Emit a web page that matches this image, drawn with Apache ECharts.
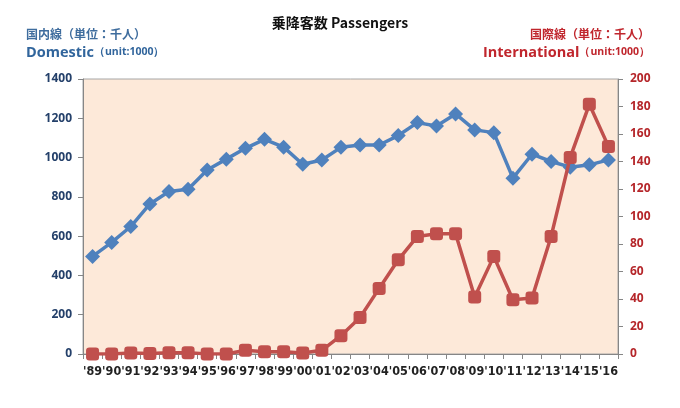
<!DOCTYPE html>
<html>
<head>
<meta charset="utf-8">
<script src="https://cdn.jsdelivr.net/npm/echarts@6/dist/echarts.min.js"></script>
<style>
  html, body { margin: 0; padding: 0; background: #fff; }
  #chart { width: 680px; height: 408px; }
</style>
</head>
<body>
<div id="chart"></div>
<script>
  // years '89 .. '16
  const years = ["'89","'90","'91","'92","'93","'94","'95","'96","'97","'98","'99","'00","'01","'02",
                 "'03","'04","'05","'06","'07","'08","'09","'10","'11","'12","'13","'14","'15","'16"]
  // domestic passengers (thousand)
  const domestic = [497, 568, 649, 764, 827, 839, 937, 992, 1047, 1093, 1053, 966, 988, 1052,
                    1064, 1064, 1112, 1178, 1161, 1222, 1141, 1127, 895, 1017, 980, 951, 963, 988]
  // international passengers (thousand)
  const international = [0, 0, 0.7, 0.3, 1, 1, 0, 0, 2.7, 1.7, 1.7, 0.7, 2.7, 13.3,
                         26.5, 47.7, 68.5, 85.5, 87.4, 87.4, 41.4, 71, 39.5, 40.7, 85.5, 143, 181.6, 151]
  const leftTicks = { min: 0, max: 1400, interval: 200 }
  const rightTicks = { min: 0, max: 200, interval: 20 }

  const blue = '#4F81BD'
  const red = '#C0504D'
  const jp = "'Noto Sans CJK JP', sans-serif"
  const lat = "'Open Sans', 'Noto Sans', sans-serif"

  const chart = echarts.init(document.getElementById('chart'))
  const option = {
    animation: false,
    backgroundColor: '#fff',
    title: [
      {
        text: '乗降客数 Passengers',
        left: 'center',
        top: 11,
        textStyle: { fontFamily: jp, fontSize: 14, fontWeight: 'bold', color: '#111' }
      },
      {
        text: '国内線（単位：千人）',
        left: 21,
        top: 23,
        textStyle: { fontFamily: jp, fontSize: 12, fontWeight: 'bold', color: '#3F6D9E' }
      },
      {
        text: '{a|Domestic}{b|（unit:1000）}',
        left: 21,
        top: 40,
        textStyle: {
          rich: {
            a: { fontFamily: lat, fontSize: 14.5, fontWeight: 'bold', color: '#31659C' },
            b: { fontFamily: lat, fontSize: 10.5, fontWeight: 'bold', color: '#31659C' }
          }
        }
      },
      {
        text: '国際線（単位：千人）',
        right: 25,
        top: 23,
        textStyle: { fontFamily: jp, fontSize: 12, fontWeight: 'bold', color: '#C0262D' }
      },
      {
        text: '{a|International}{b|（unit:1000）}',
        right: 25,
        top: 40,
        textStyle: {
          rich: {
            a: { fontFamily: lat, fontSize: 14.5, fontWeight: 'bold', color: '#C0262D' },
            b: { fontFamily: lat, fontSize: 10.5, fontWeight: 'bold', color: '#C0262D' }
          }
        }
      }
    ],
    grid: {
      left: 83, right: 62, top: 79, bottom: 54,
      show: true,
      backgroundColor: '#FDE9D9',
      borderColor: '#A6A6A6',
      borderWidth: 1
    },
    xAxis: {
      type: 'category',
      data: years,
      boundaryGap: true,
      axisLine: { lineStyle: { color: '#868686' } },
      axisTick: { show: true, length: 5, lineStyle: { color: '#868686' } },
      axisLabel: {
        interval: 0,
        hideOverlap: false,
        margin: 11,
        fontFamily: "'Liberation Sans Narrow', 'DejaVu Sans Condensed', sans-serif",
        fontSize: 12.5,
        fontWeight: 'bold',
        color: '#222'
      }
    },
    yAxis: [
      {
        type: 'value',
        min: leftTicks.min, max: leftTicks.max, interval: leftTicks.interval,
        position: 'left',
        axisLine: { show: true, lineStyle: { color: '#868686' } },
        axisTick: { show: true, length: 5, lineStyle: { color: '#868686' } },
        splitLine: { show: false },
        axisLabel: {
          margin: 11, fontFamily: lat, fontSize: 12, fontWeight: 'bold', color: '#24406A',
          formatter: v => String(v)
        }
      },
      {
        type: 'value',
        min: rightTicks.min, max: rightTicks.max, interval: rightTicks.interval,
        position: 'right',
        axisLine: { show: true, lineStyle: { color: '#868686' } },
        axisTick: { show: true, length: 5, lineStyle: { color: '#868686' } },
        splitLine: { show: false },
        axisLabel: {
          margin: 12, fontFamily: lat, fontSize: 12, fontWeight: 'bold', color: '#B5262A',
          formatter: v => String(v)
        }
      }
    ],
    series: [
      {
        name: 'Domestic',
        type: 'line',
        yAxisIndex: 0,
        data: domestic,
        symbol: 'diamond',
        symbolSize: 15,
        lineStyle: { color: blue, width: 3.5 },
        itemStyle: { color: blue },
        z: 2
      },
      {
        name: 'International',
        type: 'line',
        yAxisIndex: 1,
        data: international,
        symbol: 'roundRect',
        symbolSize: 13,
        lineStyle: { color: red, width: 3.5 },
        itemStyle: { color: red },
        z: 3
      }
    ]
  }
  chart.setOption(option)
</script>
</body>
</html>
